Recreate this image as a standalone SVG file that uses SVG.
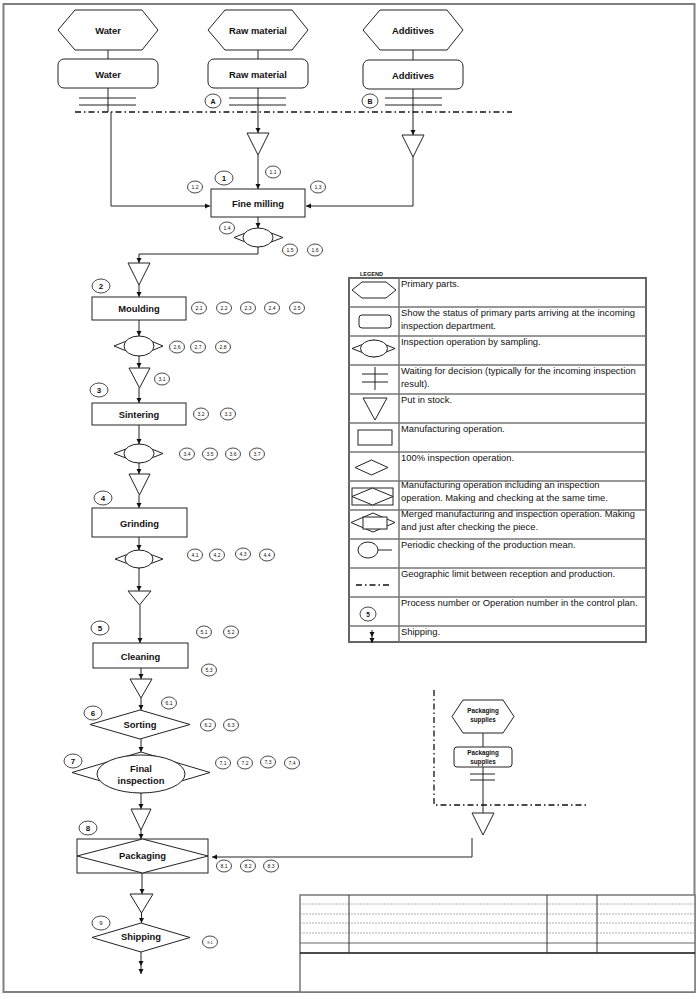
<svg xmlns="http://www.w3.org/2000/svg" width="700" height="999" viewBox="0 0 700 999">
<style>
.s{fill:#fff;stroke:#222;stroke-width:1}
.ln{fill:none;stroke:#222;stroke-width:1}
.dd{fill:none;stroke:#111;stroke-width:1.3;stroke-dasharray:6 3 1.5 3}
.t{font-family:"Liberation Sans",Arial,sans-serif;font-size:9.4px;font-weight:bold;fill:#111;text-anchor:middle;dominant-baseline:central}
.ts{font-family:"Liberation Sans",Arial,sans-serif;font-size:6.3px;font-weight:bold;fill:#111;text-anchor:middle}
.c{fill:#fff;stroke:#333;stroke-width:0.9}
.n{font-family:"Liberation Sans",Arial,sans-serif;font-size:5px;fill:#111;text-anchor:middle;dominant-baseline:central}
.p{font-family:"Liberation Sans",Arial,sans-serif;font-size:8px;font-weight:bold;fill:#111;text-anchor:middle;dominant-baseline:central}
.lg{font-family:"Liberation Sans",Arial,sans-serif;font-size:9.4px;fill:#111}
.gl{stroke:#777;stroke-width:1.5;fill:none}
</style>
<defs>
<marker id="ar" markerWidth="6" markerHeight="6" refX="5" refY="3" orient="auto" markerUnits="userSpaceOnUse">
<path d="M0,0.5 L5,3 L0,5.5 z" fill="#111"/>
</marker>
</defs>
<rect x="0" y="0" width="700" height="999" fill="#fff"/>
<rect id="page-border" x="3.5" y="4" width="691" height="988" fill="none" stroke="#808080" stroke-width="2"/>

<g id="connectors">
<line class="ln" x1="108" y1="50" x2="108" y2="59"/>
<line class="ln" x1="258" y1="50" x2="258" y2="59"/>
<line class="ln" x1="413" y1="50" x2="413" y2="60"/>
<path class="ln" d="M108,88 V112"/>
<path class="ln" d="M111,112 V206 H210" marker-end="url(#ar)"/>
<path class="ln" d="M258,88 V133" marker-end="url(#ar)"/>
<path class="ln" d="M413,89 V135" marker-end="url(#ar)"/>
<path class="ln" d="M258,155 V189" marker-end="url(#ar)"/>
<path class="ln" d="M413,157 V206 H306" marker-end="url(#ar)"/>
<path class="ln" d="M258,217 V228" marker-end="url(#ar)"/>
<path class="ln" d="M258,247 V254 H139 V263" marker-end="url(#ar)"/>
<path class="ln" d="M139,285 V297" marker-end="url(#ar)"/>
<path class="ln" d="M139,320 V336" marker-end="url(#ar)"/>
<path class="ln" d="M139,356 V368" marker-end="url(#ar)"/>
<path class="ln" d="M139,388 V403" marker-end="url(#ar)"/>
<path class="ln" d="M139,425 V444" marker-end="url(#ar)"/>
<path class="ln" d="M139,463 V474" marker-end="url(#ar)"/>
<path class="ln" d="M139,495 V508" marker-end="url(#ar)"/>
<path class="ln" d="M139,537 V550" marker-end="url(#ar)"/>
<path class="ln" d="M139,568 V591" marker-end="url(#ar)"/>
<path class="ln" d="M140,605 V643" marker-end="url(#ar)"/>
<path class="ln" d="M141,668 V679" marker-end="url(#ar)"/>
<path class="ln" d="M141,698 V710" marker-end="url(#ar)"/>
<path class="ln" d="M141,739 V752" marker-end="url(#ar)"/>
<path class="ln" d="M141,793 V809" marker-end="url(#ar)"/>
<path class="ln" d="M141,830 V839" marker-end="url(#ar)"/>
<path class="ln" d="M142,873 V894" marker-end="url(#ar)"/>
<path class="ln" d="M141.5,913 V923" marker-end="url(#ar)"/>
<path class="ln" d="M141,952 V966" marker-end="url(#ar)"/>
<path class="ln" d="M141,966 V974" marker-end="url(#ar)"/>
<line class="ln" x1="483" y1="733" x2="483" y2="747"/>
<line class="ln" x1="483" y1="767" x2="483" y2="813"/>
<path class="ln" d="M472,838 V857 H212" marker-end="url(#ar)"/>
<path class="dd" d="M75,112 H512"/>
<path class="dd" d="M434,690 V805 H588"/>
</g>

<g id="water-hex"><polygon class="s" points="58,30 75,10 142,10 158,30 142,50 75,50"/><text class="t" x="108" y="30">Water</text></g>
<g id="raw-hex"><polygon class="s" points="208,30 225,10 292,10 308,30 292,50 225,50"/><text class="t" x="258" y="30">Raw material</text></g>
<g id="add-hex"><polygon class="s" points="363,30 380,10 447,10 463,30 447,50 380,50"/><text class="t" x="413" y="30">Additives</text></g>
<g id="water-rect"><rect class="s" x="58" y="59" width="100" height="29" rx="6"/><text class="t" x="108" y="74">Water</text></g>
<g id="raw-rect"><rect class="s" x="208" y="59" width="100" height="29" rx="6"/><text class="t" x="258" y="74">Raw material</text></g>
<g id="add-rect"><rect class="s" x="363" y="60" width="100" height="29" rx="6"/><text class="t" x="413" y="75">Additives</text></g>
<g id="wait-water"><path class="ln" d="M79,98 H136 M79,105 H136"/></g>
<g id="wait-raw"><path class="ln" d="M229,98 H286 M229,105 H286"/></g>
<g id="wait-add"><path class="ln" d="M385,98 H442 M385,105 H442"/></g>
<g id="circle-A"><ellipse class="c" cx="213" cy="101" rx="8" ry="7"/><text class="p" x="213" y="101" style="font-size:7px">A</text></g>
<g id="circle-B"><ellipse class="c" cx="370" cy="101" rx="8" ry="7"/><text class="p" x="370" y="101" style="font-size:7px">B</text></g>

<g id="stock-raw"><polygon class="s" points="247,133 269,133 258,155"/></g>
<g id="stock-add"><polygon class="s" points="402,135 424,135 413,157"/></g>
<g id="fine-milling"><rect class="s" x="211" y="189" width="94" height="28"/><text class="t" x="258" y="203">Fine milling</text></g>
<g id="insp-1"><polygon class="s" points="234,237.5 258,228 283,237.5 258,247"/><ellipse class="s" cx="258" cy="237.5" rx="15" ry="9.5"/></g>
<g id="stock-1"><polygon class="s" points="128,263 150,263 139,285"/></g>
<g id="moulding"><rect class="s" x="92" y="297" width="94" height="23"/><text class="t" x="139" y="308.5">Moulding</text></g>
<g id="insp-2"><polygon class="s" points="114,346 139,336 163,346 139,356"/><ellipse class="s" cx="139" cy="346" rx="15" ry="10"/></g>
<g id="stock-2"><polygon class="s" points="129,368 150,368 139.5,388"/></g>
<g id="sintering"><rect class="s" x="92" y="403" width="94" height="22"/><text class="t" x="139" y="414">Sintering</text></g>
<g id="insp-3"><polygon class="s" points="114,453.5 139,444 163,453.5 139,463"/><ellipse class="s" cx="139" cy="453.5" rx="15" ry="9.5"/></g>
<g id="stock-3"><polygon class="s" points="129,474 150,474 139.5,495"/></g>
<g id="grinding"><rect class="s" x="92" y="508" width="95" height="29"/><text class="t" x="139.5" y="523">Grinding</text></g>
<g id="insp-4"><polygon class="s" points="115,559 139,550 163,559 139,568"/><ellipse class="s" cx="139" cy="559" rx="14" ry="9"/></g>
<g id="stock-4"><polygon class="s" points="128,591 151,591 139.5,605"/></g>
<g id="cleaning"><rect class="s" x="93" y="643" width="95" height="25"/><text class="t" x="140.5" y="656">Cleaning</text></g>
<g id="stock-5"><polygon class="s" points="130,679 152,679 141,698"/></g>
<g id="sorting"><polygon class="s" points="90,724.5 140,710 190,724.5 140,739"/><text class="t" x="140" y="724.5">Sorting</text></g>
<g id="final-inspection"><polygon class="s" points="72,772.5 141,752 210,772.5 141,793"/><ellipse class="s" cx="141" cy="774" rx="44" ry="19"/><text class="t" x="141" y="768">Final</text><text class="t" x="141" y="780">inspection</text></g>
<g id="stock-6"><polygon class="s" points="131,809 151,809 141,830"/></g>
<g id="packaging"><rect class="s" x="77" y="839" width="131" height="34"/><polygon class="s" points="77,856 142.5,839 208,856 142.5,873"/><text class="t" x="142.5" y="855">Packaging</text></g>
<g id="stock-7"><polygon class="s" points="130,894 153,894 141.5,913"/></g>
<g id="shipping"><polygon class="s" points="92,937.5 141,923 190,937.5 141,952"/><text class="t" x="141" y="936.5">Shipping</text></g>

<g id="supplies-hex"><polygon class="s" points="452,716.5 463,700 503,700 514,716.5 503,733 463,733"/><text class="ts" x="483" y="713">Packaging</text><text class="ts" x="483" y="721.5">supplies</text></g>
<g id="supplies-rect"><rect class="s" x="454" y="747" width="58" height="20" rx="3"/><text class="ts" x="483" y="755">Packaging</text><text class="ts" x="483" y="763.5">supplies</text></g>
<g id="wait-supplies"><path class="ln" d="M470,774 H495 M470,780 H495"/></g>
<g id="stock-supplies"><polygon class="s" points="472,813 494,813 483,835"/></g>

<g id="process-numbers">
<ellipse class="c" cx="224" cy="178" rx="9" ry="7"/><text class="p" x="224" y="178">1</text>
<ellipse class="c" cx="101" cy="286" rx="9" ry="7"/><text class="p" x="101" y="286">2</text>
<ellipse class="c" cx="99" cy="390" rx="9" ry="7"/><text class="p" x="99" y="390">3</text>
<ellipse class="c" cx="103" cy="498" rx="9" ry="7"/><text class="p" x="103" y="498">4</text>
<ellipse class="c" cx="100" cy="628" rx="9" ry="7"/><text class="p" x="100" y="628">5</text>
<ellipse class="c" cx="93" cy="713" rx="9" ry="7"/><text class="p" x="93" y="713">6</text>
<ellipse class="c" cx="73" cy="761" rx="9" ry="7"/><text class="p" x="73" y="761">7</text>
<ellipse class="c" cx="88" cy="828" rx="9" ry="7"/><text class="p" x="88" y="828">8</text>
<ellipse class="c" cx="101" cy="923" rx="9" ry="7"/><text class="p" x="101" y="923" style="font-weight:normal;font-size:6px">9</text>
</g>

<g id="operation-numbers">
<ellipse class="c" cx="273" cy="172" rx="7.5" ry="6"/><text class="n" x="273" y="172">1.1</text>
<ellipse class="c" cx="195" cy="187" rx="7.5" ry="6"/><text class="n" x="195" y="187">1.2</text>
<ellipse class="c" cx="318" cy="187" rx="7.5" ry="6"/><text class="n" x="318" y="187">1.3</text>
<ellipse class="c" cx="227" cy="228" rx="7.5" ry="6"/><text class="n" x="227" y="228">1.4</text>
<ellipse class="c" cx="290" cy="250" rx="7.5" ry="6"/><text class="n" x="290" y="250">1.5</text>
<ellipse class="c" cx="315" cy="250" rx="7.5" ry="6"/><text class="n" x="315" y="250">1.6</text>
<ellipse class="c" cx="199" cy="308" rx="7.5" ry="6"/><text class="n" x="199" y="308">2.1</text>
<ellipse class="c" cx="224" cy="308" rx="7.5" ry="6"/><text class="n" x="224" y="308">2.2</text>
<ellipse class="c" cx="248" cy="308" rx="7.5" ry="6"/><text class="n" x="248" y="308">2.3</text>
<ellipse class="c" cx="272" cy="308" rx="7.5" ry="6"/><text class="n" x="272" y="308">2.4</text>
<ellipse class="c" cx="297" cy="308" rx="7.5" ry="6"/><text class="n" x="297" y="308">2.5</text>
<ellipse class="c" cx="177" cy="347" rx="7.5" ry="6"/><text class="n" x="177" y="347">2.6</text>
<ellipse class="c" cx="198" cy="347" rx="7.5" ry="6"/><text class="n" x="198" y="347">2.7</text>
<ellipse class="c" cx="223" cy="347" rx="7.5" ry="6"/><text class="n" x="223" y="347">2.8</text>
<ellipse class="c" cx="162" cy="379" rx="7.5" ry="6"/><text class="n" x="162" y="379">3.1</text>
<ellipse class="c" cx="201" cy="414" rx="7.5" ry="6"/><text class="n" x="201" y="414">3.2</text>
<ellipse class="c" cx="228" cy="414" rx="7.5" ry="6"/><text class="n" x="228" y="414">3.3</text>
<ellipse class="c" cx="187" cy="454" rx="7.5" ry="6"/><text class="n" x="187" y="454">3.4</text>
<ellipse class="c" cx="210" cy="454" rx="7.5" ry="6"/><text class="n" x="210" y="454">3.5</text>
<ellipse class="c" cx="233" cy="454" rx="7.5" ry="6"/><text class="n" x="233" y="454">3.6</text>
<ellipse class="c" cx="257" cy="454" rx="7.5" ry="6"/><text class="n" x="257" y="454">3.7</text>
<ellipse class="c" cx="195" cy="555" rx="7.5" ry="6"/><text class="n" x="195" y="555">4.1</text>
<ellipse class="c" cx="217" cy="555" rx="7.5" ry="6"/><text class="n" x="217" y="555">4.2</text>
<ellipse class="c" cx="243" cy="554" rx="7.5" ry="6"/><text class="n" x="243" y="554">4.3</text>
<ellipse class="c" cx="267" cy="555" rx="7.5" ry="6"/><text class="n" x="267" y="555">4.4</text>
<ellipse class="c" cx="204" cy="632" rx="7.5" ry="6"/><text class="n" x="204" y="632">5.1</text>
<ellipse class="c" cx="231" cy="632" rx="7.5" ry="6"/><text class="n" x="231" y="632">5.2</text>
<ellipse class="c" cx="209" cy="670" rx="7.5" ry="6"/><text class="n" x="209" y="670">5.3</text>
<ellipse class="c" cx="169" cy="703" rx="7.5" ry="6"/><text class="n" x="169" y="703">6.1</text>
<ellipse class="c" cx="208" cy="725" rx="7.5" ry="6"/><text class="n" x="208" y="725">6.2</text>
<ellipse class="c" cx="231" cy="725" rx="7.5" ry="6"/><text class="n" x="231" y="725">6.3</text>
<ellipse class="c" cx="223" cy="763" rx="7.5" ry="6"/><text class="n" x="223" y="763">7.1</text>
<ellipse class="c" cx="245" cy="763" rx="7.5" ry="6"/><text class="n" x="245" y="763">7.2</text>
<ellipse class="c" cx="268" cy="762" rx="7.5" ry="6"/><text class="n" x="268" y="762">7.3</text>
<ellipse class="c" cx="292" cy="763" rx="7.5" ry="6"/><text class="n" x="292" y="763">7.4</text>
<ellipse class="c" cx="224" cy="866" rx="7.5" ry="6"/><text class="n" x="224" y="866">8.1</text>
<ellipse class="c" cx="248" cy="866" rx="7.5" ry="6"/><text class="n" x="248" y="866">8.2</text>
<ellipse class="c" cx="271" cy="866" rx="7.5" ry="6"/><text class="n" x="271" y="866">8.3</text>
<ellipse class="c" cx="210" cy="942" rx="7.5" ry="6"/><text class="n" x="210" y="942" style="font-size:4px">9.1</text>
</g>

<g id="legend">
<text x="360" y="276" style="font-family:'Liberation Sans',Arial,sans-serif;font-size:5.5px;font-weight:bold;fill:#111">LEGEND</text>
<rect x="349" y="278" width="297" height="364" fill="#fff" stroke="#666" stroke-width="2"/>
<path class="gl" d="M399,278 V642 M349,307 H646 M349,336 H646 M349,365 H646 M349,394 H646 M349,423 H646 M349,452 H646 M349,481 H646 M349,510 H646 M349,539 H646 M349,568 H646 M349,597 H646 M349,626 H646"/>
<polygon class="s" points="352,290 362,282 386,282 396,290 386,298 362,298"/>
<rect class="s" x="359" y="315" width="32" height="13" rx="3"/>
<polygon class="s" points="352,348.5 374,340 395,348.5 374,357"/><ellipse class="s" cx="374" cy="348.5" rx="13.5" ry="8.5"/>
<path class="ln" d="M362,374 H388 M362,382 H388 M375,367 V390"/>
<polygon class="s" points="363,398 387,398 375,420"/>
<rect class="s" x="358" y="430" width="34" height="15"/>
<polygon class="s" points="355,467.5 371.5,460 388,467.5 371.5,475"/>
<rect class="s" x="352" y="488" width="41" height="17"/><polygon class="s" points="352,496.5 372.5,488 393,496.5 372.5,505"/>
<polygon class="s" points="351,522.5 373,513 395,522.5 373,532"/><rect class="s" x="363" y="517" width="24" height="12"/>
<ellipse class="s" cx="368" cy="550" rx="10" ry="8"/><line class="ln" x1="378" y1="550" x2="392" y2="550"/>
<path class="dd" d="M356,585 H392"/>
<ellipse class="c" cx="368" cy="614" rx="8" ry="7"/><text class="p" x="368" y="614" style="font-size:6.5px">5</text>
<path class="ln" d="M372,630 V637" marker-end="url(#ar)"/><path class="ln" d="M372,637 V643" marker-end="url(#ar)"/>
<text class="lg" x="401" y="287">Primary parts.</text>
<text class="lg" x="401" y="316">Show the status of primary parts arriving at the incoming</text>
<text class="lg" x="401" y="329">inspection department.</text>
<text class="lg" x="401" y="345">Inspection operation by sampling.</text>
<text class="lg" x="401" y="374">Waiting for decision (typically for the incoming inspection</text>
<text class="lg" x="401" y="387">result).</text>
<text class="lg" x="401" y="403">Put in stock.</text>
<text class="lg" x="401" y="432">Manufacturing operation.</text>
<text class="lg" x="401" y="461">100% inspection operation.</text>
<text class="lg" x="401" y="488">Manufacturing operation including an inspection</text>
<text class="lg" x="401" y="501">operation. Making and checking at the same time.</text>
<text class="lg" x="401" y="517">Merged manufacturing and inspection operation. Making</text>
<text class="lg" x="401" y="530">and just after checking the piece.</text>
<text class="lg" x="401" y="548">Periodic checking of the production mean.</text>
<text class="lg" x="401" y="577">Geographic limit between reception and production.</text>
<text class="lg" x="401" y="606">Process number or Operation number in the control plan.</text>
<text class="lg" x="401" y="635">Shipping.</text>
</g>

<g id="title-block">
<rect x="300" y="895" width="395" height="97" fill="#fff" stroke="#777" stroke-width="1.5"/>
<path d="M300,904 H695 M300,914 H695 M300,923 H695 M300,933 H695" stroke="#999" stroke-width="0.8" stroke-dasharray="2 1" fill="none"/>
<path d="M300,943 H695" stroke="#666" stroke-width="1" fill="none"/>
<path d="M300,953 H695" stroke="#111" stroke-width="1.5" fill="none"/>
<path d="M349,895 V953 M547,895 V953 M597,895 V953" stroke="#333" stroke-width="1" fill="none"/>
</g>
</svg>
